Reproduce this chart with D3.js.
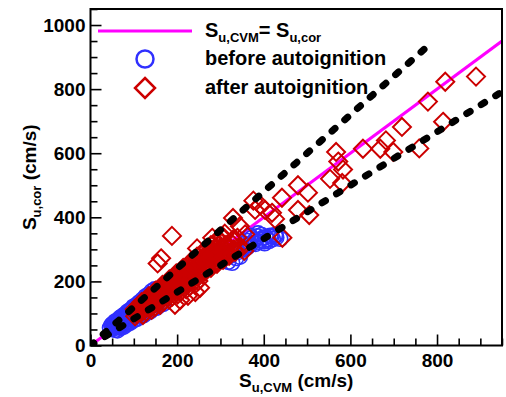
<!DOCTYPE html>
<html>
<head>
<meta charset="utf-8">
<script src="https://cdn.jsdelivr.net/npm/d3@7"></script>
<style>
  body { margin: 0; background: #fff; }
  svg { display: block; font-family: "Liberation Sans", Arial, sans-serif; font-weight: bold; }
</style>
</head>
<body>
<svg id="chart" width="506" height="397"></svg>
<script>
// Axis ranges and tick labels
const xDomain = [0, 950];
const yDomain = [0, 1050];
const xMajorTicks = [0, 200, 400, 600, 800];
const yMajorTicks = [0, 200, 400, 600, 800, 1000];
const minorStep = 50;

// Reference lines: identity and the +/-20 % band
const identitySlope = 1;
const bandSlopes = [1.2, 1 / 1.2];
const lineLimit = 950;

// S_u,CVM vs S_u,cor before autoignition (cm/s)
const beforeAutoignition = [
  [48,63],[54,69],[62,77],[67,83],[75,92],[81,96],[88,106],[94,111],[101,119],[107,123],
  [115,132],[120,138],[128,147],[133,151],[141,159],[147,165],[155,173],[161,179],
  [50,51],[56,59],[63,64],[69,72],[77,76],[83,86],[90,89],[96,99],[104,102],[109,112],
  [117,115],[123,125],[130,130],[136,137],[144,144],[150,151],[158,156],[164,167],[172,169],
  [58,49],[64,57],[72,61],[78,69],[86,74],[92,82],[99,86],[105,94],[113,98],[119,106],
  [127,110],[133,118],[141,123],[147,131],[155,134],[161,143],[169,147],[175,155],
  [50,66],[57,75],[64,80],[71,89],[78,96],[85,105],[92,111],[99,121],[106,127],[113,135],
  [120,143],[127,153],[134,159],[141,169],[148,175],
  [62,47],[70,55],[77,59],[85,67],[92,71],[100,79],[107,83],[115,91],[122,94],[130,102],
  [137,106],[145,114],[152,117],[160,126],[168,130],
  [53,55],[60,62],[67,66],[74,74],[81,79],[88,86],[95,91],[102,98],[109,103],[116,111],
  [123,116],[130,124],[137,128],[144,136],[151,140],[158,149],[165,153],[172,161],
  [52,60],[59,68],[66,72],[73,82],[80,86],[87,95],[94,100],[101,109],[108,115],[115,123],
  [122,128],[129,137],[136,142],[143,151],[150,157],[157,164],[164,170],
  [45,55],[52,67],[59,73],[64,61],[68,86],[87,73],[91,98],[110,95],[121,105],[137,136],
  [182,176],[189,181],[201,191],[209,199],[221,205],[229,215],[241,221],[249,231],[261,237],[269,247],
  [281,251],[289,261],[301,265],[309,275],[321,279],[329,288],[341,292],[349,301],[361,305],[369,314],
  [381,317],[389,323],[401,325],[409,331],[421,332],[429,337],[438,333],[372,335],[385,341],[395,345],
  [405,338],[418,341],[428,343],[392,330],[402,319],[412,326],[355,318],[362,326],[398,336],[380,330],
  [415,342],[364,314],[350,298],[387,350],[369,342],[426,345],[336,273],[345,277],[318,261],[327,258]
];

// S_u,CVM vs S_u,cor after autoignition (cm/s)
const afterAutoignition = [
  [102,113],[111,124],[118,135],[128,142],[134,153],[144,159],[150,171],[160,177],[166,189],
  [176,195],[182,206],[192,213],[198,225],[208,231],[214,242],[224,249],[230,259],[240,267],[246,277],
  [256,285],[262,295],[272,302],[278,313],[288,321],[294,331],[304,338],[310,349],
  [105,106],[115,114],[121,122],[131,130],[137,138],[147,146],[153,154],[163,162],
  [169,170],[179,178],[185,186],[195,194],[201,202],[211,210],[217,218],[227,226],[233,234],[243,242],
  [249,250],[259,258],[265,266],[275,274],[281,282],[291,290],[297,298],[307,306],[313,314],[323,322],
  [329,330],[339,336],
  [103,91],[107,98],[117,103],[123,113],[133,118],[139,127],[149,132],[155,142],[165,147],[171,156],
  [181,161],[187,170],[197,176],[203,185],[213,190],[219,199],[229,204],[235,213],[245,219],[251,228],
  [261,233],[267,242],[277,247],[283,257],[293,262],[299,271],[309,276],[315,285],[325,291],[331,300],
  [341,305],
  [121,95],[129,105],[141,111],[149,121],[161,127],[169,137],[181,143],[189,153],[201,159],[209,169],
  [221,175],[229,185],[241,191],[249,201],
  [104,111],[112,118],[120,128],[128,135],[136,145],[144,152],[152,162],[160,169],[168,179],[176,186],
  [184,196],[192,203],[200,213],[208,220],[216,230],[224,237],[232,247],[240,253],[248,264],[256,270],
  [264,281],[272,287],[280,298],[288,304],[296,315],[304,321],
  [106,99],[114,107],[122,113],[130,123],[138,128],[146,138],[154,143],[162,153],[170,159],[178,168],
  [186,174],[194,183],[202,189],[210,199],[218,204],[226,214],[234,219],[242,229],[250,235],[258,244],
  [266,250],[274,259],[282,265],[290,275],[298,280],[306,290],[314,295],[322,305],
  [110,105],[126,114],[140,127],[154,136],[167,148],[181,158],[195,170],[209,180],
  [223,192],[237,205],[251,217],[264,230],[278,242],[292,255],[306,267],[320,280],[334,292],[348,305],
  [355,295],[207,142],[225,155],[195,127],[242,167],[253,180],[184,198],[218,217],[253,255],[281,286],
  [311,311],[137,142],[161,173],[230,245],[262,272],[290,300],
  [188,342],[163,272],[155,256],[246,303],[281,336],[306,339],[329,398],[345,372],[357,347],
  [376,452],[392,438],[403,423],[419,414],[380,423],[426,395],[442,461],[479,423],[505,407],[479,500],
  [502,477],[443,336],[553,520],[581,507],[567,604],[572,574],[583,549],[629,614],[669,614],[699,604],
  [682,640],[719,682],[759,615],[779,761],[814,698],[819,823],[890,839]
];

const colors = { identity: "#ff00ff", before: "#3030ff", after: "#cc0000", band: "#000" };

const svg = d3.select("#chart");
const plot = { left: 90.5, right: 502, top: 9, bottom: 345.5 };

const x = d3.scaleLinear().domain(xDomain).range([plot.left, plot.right]);
const y = d3.scaleLinear().domain(yDomain).range([plot.bottom, plot.top]);

svg.append("defs").append("clipPath").attr("id", "plot-clip")
  .append("rect")
  .attr("x", plot.left).attr("y", plot.top)
  .attr("width", plot.right - plot.left).attr("height", plot.bottom - plot.top);

const layer = svg.append("g").attr("clip-path", "url(#plot-clip)");

const line = d3.line().x(d => x(d[0])).y(d => y(d[1]));
const ref = slope => {
  const xe = Math.min(lineLimit, lineLimit / slope);
  return [[0, 0], [xe, slope * xe]];
};

// identity line
layer.append("path")
  .attr("d", line(ref(identitySlope)))
  .attr("fill", "none").attr("stroke", colors.identity).attr("stroke-width", 3);

// markers
layer.append("g").selectAll("circle").data(beforeAutoignition).join("circle")
  .attr("cx", d => x(d[0])).attr("cy", d => y(d[1])).attr("r", 7.5)
  .attr("fill", "none").attr("stroke", colors.before).attr("stroke-width", 1.6);

const diamond = h => `M0,${-h}L${h},0L0,${h}L${-h},0Z`;
layer.append("g").selectAll("path").data(afterAutoignition).join("path")
  .attr("transform", d => `translate(${x(d[0])},${y(d[1])})`)
  .attr("d", diamond(9))
  .attr("fill", "none").attr("stroke", colors.after).attr("stroke-width", 2);

// +/-20 % dashed lines
layer.append("g").selectAll("path").data(bandSlopes).join("path")
  .attr("d", s => line(ref(s)))
  .attr("fill", "none").attr("stroke", colors.band)
  .attr("stroke-width", 7).attr("stroke-linecap", "round")
  .attr("stroke-dasharray", "4,13");

// axes
const minorX = d3.range(xDomain[0], xDomain[1] + 1, minorStep).filter(v => !xMajorTicks.includes(v));
const minorY = d3.range(yDomain[0], yDomain[1] + 1, minorStep).filter(v => !yMajorTicks.includes(v));

function styleAxis(g) {
  g.select(".domain").remove();
  g.selectAll(".tick line").attr("stroke", "#000").attr("stroke-width", 1.6);
  g.selectAll(".tick text").attr("font-size", 19).attr("font-weight", "bold")
    .attr("font-family", '"Liberation Sans", Arial, sans-serif').attr("fill", "#000");
}

svg.append("g").attr("transform", `translate(0,${plot.bottom})`)
  .call(d3.axisBottom(x).tickValues(minorX).tickSize(-7).tickFormat(""))
  .call(styleAxis);
svg.append("g").attr("transform", `translate(0,${plot.bottom})`)
  .call(d3.axisBottom(x).tickValues(xMajorTicks).tickSize(-11).tickPadding(8).tickFormat(d3.format("d")))
  .call(styleAxis);
svg.append("g").attr("transform", `translate(${plot.left},0)`)
  .call(d3.axisLeft(y).tickValues(minorY).tickSize(-7).tickFormat(""))
  .call(styleAxis);
svg.append("g").attr("transform", `translate(${plot.left},0)`)
  .call(d3.axisLeft(y).tickValues(yMajorTicks).tickSize(-11).tickPadding(5).tickFormat(d3.format("d")))
  .call(styleAxis);

// frame
svg.append("rect")
  .attr("x", plot.left).attr("y", plot.top)
  .attr("width", plot.right - plot.left).attr("height", plot.bottom - plot.top)
  .attr("fill", "none").attr("stroke", "#000").attr("stroke-width", 2);

// text with subscripts
function subText(sel, parts, size, subSize) {
  parts.forEach(p => {
    const t = sel.append("tspan").text(p.t);
    if (p.sub) t.attr("font-size", subSize).attr("dy", 5);
    else t.attr("font-size", size).attr("dy", p.after ? -5 : 0);
  });
}

const xTitle = svg.append("text").attr("x", (plot.left + plot.right) / 2).attr("y", 387)
  .attr("text-anchor", "middle").attr("fill", "#000");
subText(xTitle, [{ t: "S" }, { t: "u,CVM", sub: true }, { t: " (cm/s)", after: true }], 19, 13);

const yTitle = svg.append("text")
  .attr("transform", `translate(36,${(plot.top + plot.bottom) / 2}) rotate(-90)`)
  .attr("text-anchor", "middle").attr("fill", "#000");
subText(yTitle, [{ t: "S" }, { t: "u,cor", sub: true }, { t: " (cm/s)", after: true }], 19, 13);

// legend
const legend = svg.append("g");
legend.append("line").attr("x1", 98).attr("x2", 192).attr("y1", 31).attr("y2", 31)
  .attr("stroke", colors.identity).attr("stroke-width", 3);
const l1 = legend.append("text").attr("x", 205).attr("y", 37).attr("fill", "#000");
subText(l1, [{ t: "S" }, { t: "u,CVM", sub: true }, { t: "= S", after: true }, { t: "u,cor", sub: true }], 20, 13);

legend.append("circle").attr("cx", 145).attr("cy", 59).attr("r", 8.5)
  .attr("fill", "none").attr("stroke", colors.before).attr("stroke-width", 2.5);
legend.append("text").attr("x", 205).attr("y", 65).attr("font-size", 20).attr("fill", "#000")
  .text("before autoignition");

legend.append("path").attr("transform", "translate(145,88)").attr("d", diamond(10))
  .attr("fill", "none").attr("stroke", colors.after).attr("stroke-width", 2.5);
legend.append("text").attr("x", 205).attr("y", 94).attr("font-size", 20).attr("fill", "#000")
  .text("after autoignition");
</script>
</body>
</html>
